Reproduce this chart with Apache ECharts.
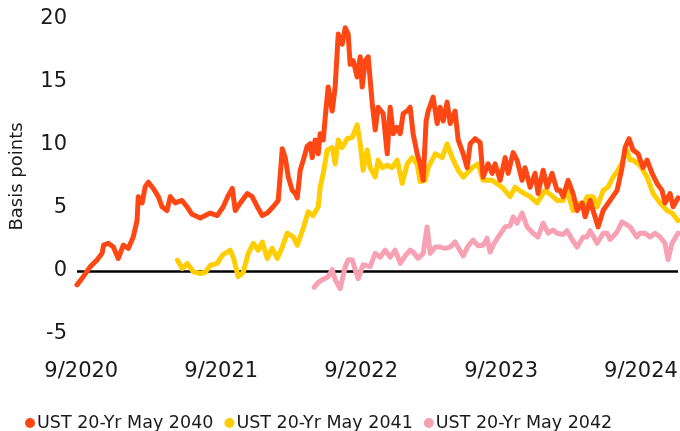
<!DOCTYPE html>
<html><head><meta charset="utf-8">
<script src="https://cdn.jsdelivr.net/npm/echarts@6/dist/echarts.min.js"></script>
<style>html,body{margin:0;padding:0;background:#fff}#c{width:680px;height:431px}</style>
</head><body><div id="c"></div>
<script>
// ---- Data (x in decimal years, y in basis points) ----
const seriesNames = ['UST 20-Yr May 2040', 'UST 20-Yr May 2041', 'UST 20-Yr May 2042'];

const t2040 = [2020.636,2020.681,2020.731,2020.779,2020.815,2020.826,2020.860,2020.896,2020.931,2020.967,
2021.003,2021.038,2021.065,2021.074,2021.101,2021.124,2021.146,2021.181,2021.217,2021.243,
2021.279,2021.303,2021.338,2021.386,2021.422,2021.458,2021.517,2021.588,2021.638,2021.681,
2021.717,2021.746,2021.767,2021.803,2021.853,2021.888,2021.924,2021.960,2021.996,2022.038,
2022.074,2022.103,2022.124,2022.146,2022.174,2022.196,2022.210,2022.231,2022.253,2022.281,
2022.303,2022.317,2022.338,2022.360,2022.374,2022.396,2022.410,2022.431,2022.460,2022.481,
2022.496,2022.503,2022.531,2022.553,2022.574,2022.588,2022.610,2022.638,2022.660,2022.674,
2022.696,2022.717,2022.746,2022.767,2022.788,2022.824,2022.853,2022.874,2022.896,2022.924,
2022.946,2022.967,2022.996,2023.017,2023.038,2023.067,2023.088,2023.110,2023.131,2023.146,
2023.181,2023.210,2023.231,2023.253,2023.281,2023.303,2023.338,2023.360,2023.396,2023.424,
2023.446,2023.481,2023.517,2023.538,2023.574,2023.603,2023.624,2023.660,2023.696,2023.717,
2023.753,2023.781,2023.817,2023.838,2023.874,2023.910,2023.931,2023.967,2023.996,2024.031,
2024.067,2024.088,2024.110,2024.146,2024.181,2024.210,2024.246,2024.267,2024.303,2024.324,
2024.360,2024.396,2024.446,2024.496,2024.531,2024.553,2024.581,2024.610,2024.646,2024.681,
2024.710,2024.746,2024.781,2024.817,2024.838,2024.874,2024.896,2024.931];
const v2040 = [-1.1,-0.45,0.35,0.87,1.4,2.05,2.2,1.9,1.0,2.05,
1.8,2.7,4.0,5.9,5.4,6.7,7.05,6.55,5.9,5.1,
4.8,5.9,5.4,5.6,5.1,4.5,4.2,4.6,4.4,5.1,
6.0,6.55,4.8,5.4,6.15,5.9,5.1,4.4,4.6,5.1,
5.6,9.7,9.0,7.45,6.4,6.15,5.8,8.0,8.8,9.9,
10.1,9.0,10.4,9.3,10.9,10.4,12.2,14.6,12.7,14.6,
17.5,18.8,18.0,19.3,18.8,16.4,16.7,15.4,17.0,14.6,
16.7,17.0,13.3,11.2,13.0,12.5,9.3,13.0,10.9,11.4,
10.9,12.5,12.7,13.0,10.9,9.3,8.5,7.2,11.9,12.7,
13.8,11.7,13.0,11.9,13.4,11.7,12.7,10.4,9.3,8.2,
10.1,10.5,10.2,7.45,8.5,7.75,8.5,7.2,9.0,7.75,
9.4,8.8,7.2,8.2,6.65,7.75,6.15,8.0,6.65,7.75,
6.4,6.4,5.9,7.2,6.15,4.8,5.4,4.3,5.6,4.8,
3.5,4.8,5.6,6.4,8.2,9.8,10.5,9.6,9.3,8.2,
8.8,7.75,6.95,6.4,5.4,6.15,5.1,5.8];

const t2041 = [2021.353,2021.388,2021.424,2021.467,2021.517,2021.553,2021.588,2021.638,2021.674,2021.731,
2021.753,2021.788,2021.824,2021.860,2021.896,2021.931,2021.960,2021.996,2022.031,2022.067,
2022.103,2022.138,2022.181,2022.210,2022.253,2022.288,2022.324,2022.360,2022.374,2022.396,
2022.424,2022.460,2022.481,2022.503,2022.531,2022.567,2022.603,2022.638,2022.660,2022.681,
2022.710,2022.731,2022.767,2022.788,2022.817,2022.853,2022.888,2022.924,2022.960,2022.996,
2023.031,2023.067,2023.088,2023.124,2023.146,2023.196,2023.246,2023.281,2023.317,2023.360,
2023.396,2023.460,2023.503,2023.538,2023.603,2023.674,2023.731,2023.767,2023.817,2023.874,
2023.924,2023.981,2024.038,2024.067,2024.110,2024.138,2024.181,2024.210,2024.253,2024.281,
2024.324,2024.353,2024.396,2024.431,2024.467,2024.503,2024.531,2024.553,2024.567,2024.588,
2024.610,2024.660,2024.710,2024.753,2024.803,2024.853,2024.888,2024.931];
const v2041 = [0.87,0.2,0.6,-0.05,-0.2,-0.1,0.45,0.6,1.25,1.65,
1.1,-0.45,-0.1,1.4,2.2,1.65,2.3,1.0,1.8,1.0,
1.9,3.0,2.7,2.05,3.4,4.7,4.4,5.1,6.65,7.75,
9.6,9.8,8.5,10.4,9.8,10.5,10.6,11.6,10.1,8.0,
9.6,8.2,7.45,8.8,8.2,8.4,8.2,8.8,6.95,8.5,
9.0,8.5,7.1,7.2,8.2,9.3,9.0,10.1,9.0,8.0,
7.45,8.2,8.5,7.2,7.2,6.65,5.9,6.65,6.25,5.9,
5.4,6.4,5.9,5.6,5.6,6.4,4.8,5.4,5.1,5.9,
5.9,5.1,6.4,6.65,7.45,8.0,8.6,9.3,9.6,8.8,
8.8,8.4,7.45,6.15,5.4,4.8,4.6,4.0];

const t2042 = [2022.331,2022.360,2022.388,2022.431,2022.460,2022.481,2022.517,2022.553,2022.574,2022.603,
2022.624,2022.646,2022.681,2022.731,2022.767,2022.803,2022.838,2022.874,2022.910,2022.946,
2022.981,2023.017,2023.038,2023.074,2023.110,2023.138,2023.160,2023.196,2023.231,2023.267,
2023.303,2023.338,2023.374,2023.396,2023.431,2023.467,2023.503,2023.538,2023.567,2023.588,
2023.617,2023.646,2023.696,2023.731,2023.753,2023.781,2023.817,2023.853,2023.896,2023.931,
2023.967,2024.003,2024.038,2024.067,2024.110,2024.138,2024.174,2024.210,2024.253,2024.281,
2024.303,2024.353,2024.396,2024.424,2024.446,2024.496,2024.531,2024.560,2024.588,2024.638,
2024.660,2024.696,2024.731,2024.767,2024.803,2024.838,2024.860,2024.888,2024.931];
const v2042 = [-1.3,-0.9,-0.7,-0.45,0.1,-0.7,-1.4,0.35,0.9,0.9,
0.1,-0.6,0.5,0.35,1.4,1.1,1.65,1.1,1.65,0.6,
1.2,1.65,1.5,1.0,1.4,3.5,1.4,1.9,1.9,1.8,
1.9,2.3,1.6,1.2,2.0,2.45,2.0,2.05,2.6,1.5,
2.2,2.7,3.5,3.6,4.3,3.8,4.6,3.5,3.0,2.7,
3.8,3.0,3.25,3.0,2.9,3.2,2.5,1.9,2.7,2.7,
3.2,2.2,3.0,3.0,2.5,3.1,3.9,3.7,3.5,2.7,
3.0,3.0,2.7,3.0,2.7,2.2,0.9,2.2,3.0];

// Tick labels
const xTickYears = [2020, 2021, 2022, 2023, 2024];
const xTickMonth = 9;
const yTicks = [-5, 0, 5, 10, 15, 20];
const xRange = [2020.636, 2024.931];
const zeroLine = 0;

// ---- Styles ----
const colors = ['#ff4713', '#ffcd00', '#f7a1b5'];
const FONT = 'DejaVu Sans';

const zip = (t, v) => t.map((x, i) => [x, v[i]]);
const xTickValues = xTickYears.map(y => y + (xTickMonth - 1) / 12);
const lineStyle = c => ({ width: 5, color: c, cap: 'round', join: 'round' });

const chart = echarts.init(document.getElementById('c'), null, { renderer: 'canvas' });
chart.setOption({
  animation: false,
  backgroundColor: '#fff',
  textStyle: { fontFamily: FONT, color: '#000' },
  grid: { left: 77, right: 2, top: 19, bottom: 97, containLabel: false, outerBoundsMode: 'none' },
  legend: {
    data: seriesNames,
    left: 20, top: 409,
    icon: 'circle', itemWidth: 10, itemHeight: 10, itemGap: 11,
    textStyle: { fontFamily: FONT, fontSize: 17.5, color: '#1a1a1a', padding: [0, 0, 0, -3] }
  },
  xAxis: {
    type: 'value', min: xRange[0], max: xRange[1],
    axisLine: { show: false }, axisTick: { show: false }, splitLine: { show: false },
    axisLabel: {
      customValues: xTickValues,
      formatter: v => xTickMonth + '/' + Math.round(v - (xTickMonth - 1) / 12),
      fontFamily: FONT, fontSize: 21, color: '#1a1a1a', margin: 27
    }
  },
  yAxis: {
    type: 'value', min: yTicks[0], max: yTicks[yTicks.length - 1], interval: 5,
    name: 'Basis points', nameLocation: 'middle', nameGap: 51, nameRotate: 90,
    nameTextStyle: { fontFamily: FONT, fontSize: 18, color: '#1a1a1a' },
    axisLine: { show: false }, axisTick: { show: false }, splitLine: { show: false },
    axisLabel: { fontFamily: FONT, fontSize: 21, color: '#1a1a1a', margin: 10 }
  },
  series: [
    { type: 'line', name: seriesNames[2], data: zip(t2042, v2042), showSymbol: false, z: 2,
      lineStyle: lineStyle(colors[2]), itemStyle: { color: colors[2] },
      markLine: {
        silent: true, symbol: ['none', 'none'], label: { show: false }, z: 1,
        lineStyle: { color: '#000', width: 2.5, type: 'solid' },
        data: [{ yAxis: zeroLine }]
      }
    },
    { type: 'line', name: seriesNames[1], data: zip(t2041, v2041), showSymbol: false, z: 3,
      lineStyle: lineStyle(colors[1]), itemStyle: { color: colors[1] } },
    { type: 'line', name: seriesNames[0], data: zip(t2040, v2040), showSymbol: false, z: 4,
      lineStyle: lineStyle(colors[0]), itemStyle: { color: colors[0] } }
  ]
});
</script>
</body></html>
